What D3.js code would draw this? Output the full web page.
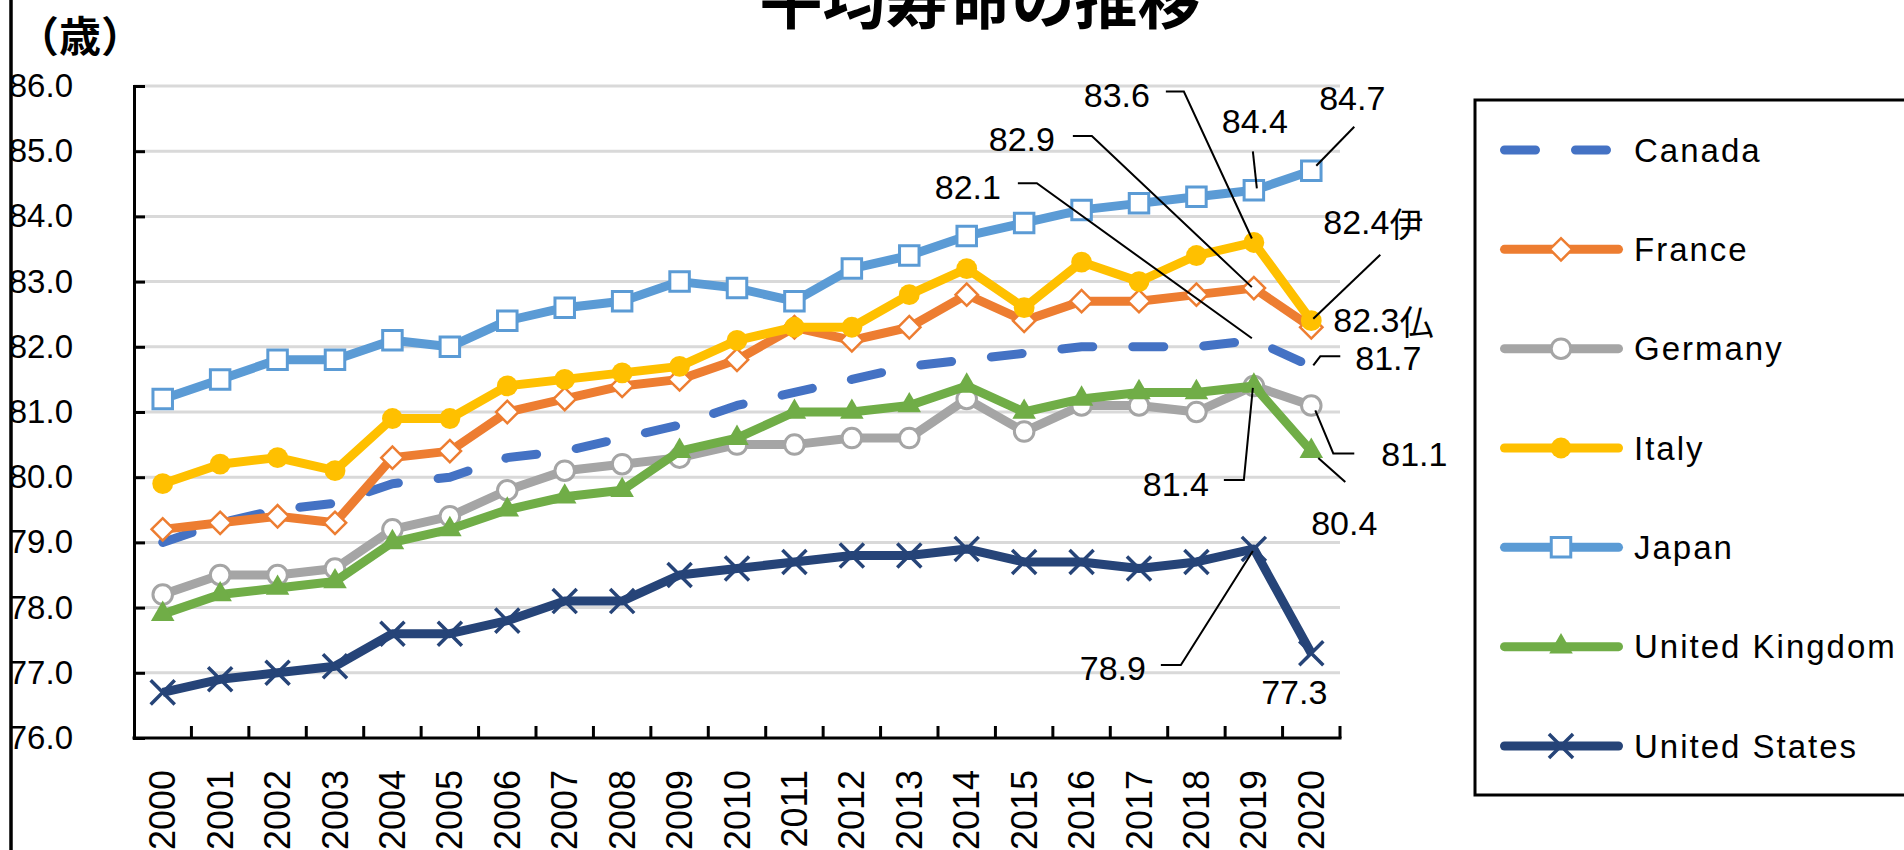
<!DOCTYPE html>
<html>
<head>
<meta charset="utf-8">
<script src="https://cdn.jsdelivr.net/npm/d3@7"></script>
<style>
  html, body { margin: 0; padding: 0; background: #fff; }
  svg { display: block; }
  text { font-family: "Liberation Sans", Arial, sans-serif; fill: #000; }
  .jp { font-family: "Noto Sans CJK JP", sans-serif; }
</style>
</head>
<body>
<svg id="chart" width="1904" height="850"></svg>
<script>
// ---- data ----
const years = ['2000', '2001', '2002', '2003', '2004', '2005', '2006', '2007', '2008', '2009', '2010',
  '2011', '2012', '2013', '2014', '2015', '2016', '2017', '2018', '2019', '2020']
const yTicks = [76, 77, 78, 79, 80, 81, 82, 83, 84, 85, 86]

const canada  = [79.0, 79.3, 79.5, 79.6, 79.9, 80.0, 80.3, 80.4, 80.6, 80.8, 81.1, 81.3, 81.5, 81.7, 81.8, 81.9, 82.0, 82.0, 82.0, 82.1, 81.7]
const france  = [79.2, 79.3, 79.4, 79.3, 80.3, 80.4, 81.0, 81.2, 81.4, 81.5, 81.8, 82.3, 82.1, 82.3, 82.8, 82.4, 82.7, 82.7, 82.8, 82.9, 82.3]
const germany = [78.2, 78.5, 78.5, 78.6, 79.2, 79.4, 79.8, 80.1, 80.2, 80.3, 80.5, 80.5, 80.6, 80.6, 81.2, 80.7, 81.1, 81.1, 81.0, 81.4, 81.1]
const italy   = [79.9, 80.2, 80.3, 80.1, 80.9, 80.9, 81.4, 81.5, 81.6, 81.7, 82.1, 82.3, 82.3, 82.8, 83.2, 82.6, 83.3, 83.0, 83.4, 83.6, 82.4]
const japan   = [81.2, 81.5, 81.8, 81.8, 82.1, 82.0, 82.4, 82.6, 82.7, 83.0, 82.9, 82.7, 83.2, 83.4, 83.7, 83.9, 84.1, 84.2, 84.3, 84.4, 84.7]
const uk      = [77.9, 78.2, 78.3, 78.4, 79.0, 79.2, 79.5, 79.7, 79.8, 80.4, 80.6, 81.0, 81.0, 81.1, 81.4, 81.0, 81.2, 81.3, 81.3, 81.4, 80.4]
const us      = [76.7, 76.9, 77.0, 77.1, 77.6, 77.6, 77.8, 78.1, 78.1, 78.5, 78.6, 78.7, 78.8, 78.8, 78.9, 78.7, 78.7, 78.6, 78.7, 78.9, 77.3]

const seriesNames = ['Canada', 'France', 'Germany', 'Italy', 'Japan', 'United Kingdom', 'United States']
const seriesValues = [canada, france, germany, italy, japan, uk, us]

// ---- style ----
const colors = ['#4472C4', '#ED7D31', '#A5A5A5', '#FFC000', '#5B9BD5', '#70AD47', '#264478']
const markers = [null, 'diamond', 'circleOpen', 'circle', 'square', 'triangle', 'x']

const series = seriesNames.map((name, i) => ({
  name, values: seriesValues[i], color: colors[i], marker: markers[i], dashed: i === 0
}))

// callouts: series, year, suffix, label offset from point, anchor, leader points (offsets from point)
const callouts = [
  { s: 4, year: '2020', suffix: '', at: [41, -73], anchor: 'middle', leader: [[5, -5], [43, -44]] },
  { s: 4, year: '2019', suffix: '', at: [1, -69], anchor: 'middle', leader: [[3, -2], [-1, -39]] },
  { s: 3, year: '2019', suffix: '', at: [-137, -147], anchor: 'middle', leader: [[-88, -151], [-70, -151], [-2, -4]] },
  { s: 1, year: '2019', suffix: '', at: [-232, -149], anchor: 'middle', leader: [[-181, -152], [-162, -152], [-2, -1]] },
  { s: 0, year: '2019', suffix: '', at: [-286, -153], anchor: 'middle', leader: [[-236, -157], [-217, -157], [-2, -2]] },
  { s: 3, year: '2020', suffix: '伊', at: [12, -99], anchor: 'start', leader: [[2, -2], [69, -66]] },
  { s: 1, year: '2020', suffix: '仏', at: [22, -7], anchor: 'start', leader: null },
  { s: 0, year: '2020', suffix: '', at: [44, -8], anchor: 'start', leader: [[2, -1], [9, -10], [29, -10]] },
  { s: 2, year: '2020', suffix: '', at: [70, 49], anchor: 'start', leader: [[4, 5], [22, 48], [43, 48]] },
  { s: 5, year: '2020', suffix: '', at: [33, 72], anchor: 'middle', leader: [[7, 7], [34, 31]] },
  { s: 5, year: '2019', suffix: '', at: [-78, 98], anchor: 'middle', leader: [[-30, 94], [-10, 94], [-1, 2]] },
  { s: 6, year: '2019', suffix: '', at: [-141, 119], anchor: 'middle', leader: [[-93, 116], [-73, 116], [-1, 2]] },
  { s: 6, year: '2020', suffix: '', at: [-17, 39], anchor: 'middle', leader: null }
]

const svg = d3.select('#chart')

const x = d3.scaleBand().domain(years).range([134, 1340]).padding(0)
const y = d3.scaleLinear().domain([76, 86]).range([738, 86])
const cx = d => x(d) + x.bandwidth() / 2

// outer border (left edge only visible)
svg.append('line')
  .attr('x1', 11).attr('x2', 11).attr('y1', 0).attr('y2', 850)
  .attr('stroke', '#000').attr('stroke-width', 3.5)

// title (its top runs off the picture, as in the original)
svg.append('text')
  .attr('class', 'jp')
  .attr('x', 980).attr('y', 23)
  .attr('text-anchor', 'middle')
  .style('font-size', '63px').style('font-weight', 'bold')
  .text('平均寿命の推移')

svg.append('text')
  .attr('class', 'jp')
  .attr('x', 80).attr('y', 33)
  .attr('text-anchor', 'middle')
  .attr('dominant-baseline', 'central')
  .style('font-size', '42px')
  .style('font-weight', 'bold')
  .text('（歳）')

// gridlines
svg.append('g')
  .selectAll('line')
  .data(yTicks.filter(d => d > 76))
  .join('line')
  .attr('x1', 134).attr('x2', 1340)
  .attr('y1', d => y(d)).attr('y2', d => y(d))
  .attr('stroke', '#d9d9d9').attr('stroke-width', 3)

// y axis
const yAxis = svg.append('g')
  .attr('transform', 'translate(134,0)')
  .call(d3.axisLeft(y).tickValues(yTicks).tickSize(-11).tickPadding(61).tickFormat(d3.format('.1f')))
yAxis.select('.domain').attr('stroke', '#000').attr('stroke-width', 3)
yAxis.selectAll('.tick line').attr('stroke', '#000').attr('stroke-width', 3)
yAxis.selectAll('.tick text')
  .style('font-family', '"Liberation Sans", Arial, sans-serif')
  .style('font-size', '33px')
  .attr('fill', '#000')

// x axis
const xAxis = svg.append('g')
xAxis.append('line')
  .attr('x1', 132.5).attr('x2', 1341.5).attr('y1', 738).attr('y2', 738)
  .attr('stroke', '#000').attr('stroke-width', 3)
xAxis.selectAll('.xtick')
  .data(years.slice(1).concat(['end']))
  .join('line')
  .attr('class', 'xtick')
  .attr('x1', d => d === 'end' ? 1340 : x(d))
  .attr('x2', d => d === 'end' ? 1340 : x(d))
  .attr('y1', 738).attr('y2', 726)
  .attr('stroke', '#000').attr('stroke-width', 3)
xAxis.selectAll('.xlabel')
  .data(years)
  .join('text')
  .attr('class', 'xlabel')
  .attr('transform', d => `translate(${cx(d)},770) rotate(-90)`)
  .attr('text-anchor', 'end')
  .attr('dominant-baseline', 'central')
  .style('font-size', '36px')
  .text(d => d)

// markers
function drawMarker (sel, type, color) {
  if (type === 'square') {
    sel.append('path').attr('d', d3.symbol(d3.symbolSquare, 380)())
      .attr('fill', '#fff').attr('stroke', color).attr('stroke-width', 3)
  } else if (type === 'diamond') {
    sel.append('path').attr('d', d3.symbol(d3.symbolSquare, 250)()).attr('transform', 'rotate(45)')
      .attr('fill', '#fff').attr('stroke', color).attr('stroke-width', 2.5)
  } else if (type === 'circleOpen') {
    sel.append('path').attr('d', d3.symbol(d3.symbolCircle, 300)())
      .attr('fill', '#fff').attr('stroke', color).attr('stroke-width', 3)
  } else if (type === 'circle') {
    sel.append('path').attr('d', d3.symbol(d3.symbolCircle, 340)())
      .attr('fill', color)
  } else if (type === 'triangle') {
    sel.append('path').attr('d', d3.symbol(d3.symbolTriangle, 240)())
      .attr('fill', color)
  } else if (type === 'x') {
    sel.append('path').attr('d', d3.symbol(d3.symbolX, 380)())
      .attr('fill', 'none').attr('stroke', color).attr('stroke-width', 3.5)
  }
}

const line = d3.line()
  .x((d, i) => cx(years[i]))
  .y(d => y(d))

series.forEach(s => {
  const g = svg.append('g')
  g.append('path')
    .datum(s.values)
    .attr('d', line)
    .attr('fill', 'none')
    .attr('stroke', s.color)
    .attr('stroke-width', 9)
    .attr('stroke-linejoin', 'round')
    .attr('stroke-linecap', s.dashed ? 'round' : 'butt')
    .attr('stroke-dasharray', s.dashed ? '31 40' : null)
  if (s.marker) {
    g.selectAll('.pt')
      .data(s.values)
      .join('g')
      .attr('class', 'pt')
      .attr('transform', (d, i) => `translate(${cx(years[i])},${y(d)})`)
      .each(function () { drawMarker(d3.select(this), s.marker, s.color) })
  }
})

// callouts
const fmt = d3.format('.1f')
const cg = svg.append('g')
callouts.forEach(c => {
  const i = years.indexOf(c.year)
  const v = series[c.s].values[i]
  const px = cx(c.year)
  const py = y(v)
  if (c.leader) {
    cg.append('path')
      .attr('d', d3.line()(c.leader.map(p => [px + p[0], py + p[1]])))
      .attr('fill', 'none').attr('stroke', '#000').attr('stroke-width', 2)
  }
  const t = cg.append('text')
    .attr('x', px + c.at[0]).attr('y', py + c.at[1])
    .attr('text-anchor', c.anchor)
    .attr('dominant-baseline', 'central')
    .style('font-size', '34px')
  t.append('tspan').text(fmt(v))
  if (c.suffix) t.append('tspan').attr('class', 'jp').text(c.suffix)
})

// legend
const legend = svg.append('g')
legend.append('rect')
  .attr('x', 1475).attr('y', 100).attr('width', 440).attr('height', 695)
  .attr('fill', 'none').attr('stroke', '#000').attr('stroke-width', 3)

const ly = d3.scalePoint().domain(seriesNames).range([150, 746])
series.forEach(s => {
  const g = legend.append('g').attr('transform', `translate(0,${ly(s.name)})`)
  g.append('line')
    .attr('x1', 1504.5).attr('x2', s.dashed ? 1612 : 1618.5)
    .attr('stroke', s.color).attr('stroke-width', 9)
    .attr('stroke-linecap', 'round')
    .attr('stroke-dasharray', s.dashed ? '31 40' : null)
  if (s.marker) {
    drawMarker(g.append('g').attr('transform', 'translate(1561,0)'), s.marker, s.color)
  }
  g.append('text')
    .attr('x', 1634).attr('y', 0)
    .attr('dominant-baseline', 'central')
    .style('font-size', '33px')
    .style('letter-spacing', '2px')
    .text(s.name)
})
</script>
</body>
</html>
